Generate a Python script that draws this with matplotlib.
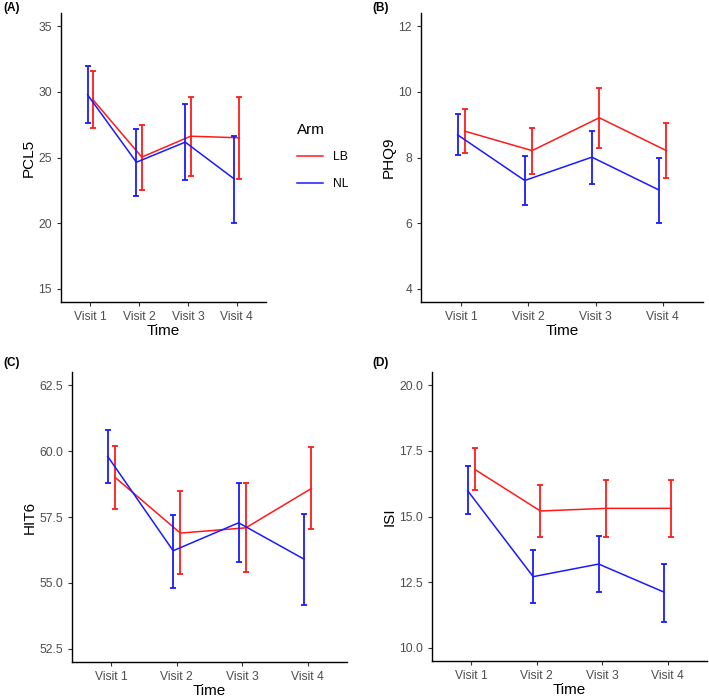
import numpy as np
import matplotlib.pyplot as plt

plt.rcParams['font.family'] = ['Liberation Sans', 'DejaVu Sans']

visits = ['Visit 1', 'Visit 2', 'Visit 3', 'Visit 4']
arms = ['LB', 'NL']
arm_colors = {'LB': '#ff1a1a', 'NL': '#1a1aff'}

# (A) PCL5
pcl5_lb = [29.4, 25.03, 26.62, 26.5]
pcl5_lb_lo = [27.23, 22.54, 23.58, 23.4]
pcl5_lb_hi = [31.6, 27.5, 29.64, 29.64]
pcl5_nl = [29.77, 24.64, 26.17, 23.38]
pcl5_nl_lo = [27.6, 22.1, 23.32, 20.0]
pcl5_nl_hi = [32.0, 27.18, 29.08, 26.6]

# (B) PHQ9
phq9_lb = [8.80, 8.21, 9.21, 8.21]
phq9_lb_lo = [8.13, 7.50, 8.29, 7.37]
phq9_lb_hi = [9.47, 8.91, 10.13, 9.05]
phq9_nl = [8.69, 7.30, 8.01, 7.01]
phq9_nl_lo = [8.09, 6.56, 7.20, 6.02]
phq9_nl_hi = [9.31, 8.06, 8.82, 7.99]

# (C) HIT6
hit6_lb = [59.01, 56.89, 57.09, 58.58]
hit6_lb_lo = [57.80, 55.32, 55.43, 57.06]
hit6_lb_hi = [60.20, 58.48, 58.78, 60.14]
hit6_nl = [59.80, 56.22, 57.28, 55.90]
hit6_nl_lo = [58.79, 54.82, 55.81, 54.16]
hit6_nl_hi = [60.81, 57.58, 58.79, 57.63]

# (D) ISI
isi_lb = [16.79, 15.21, 15.31, 15.31]
isi_lb_lo = [15.99, 14.21, 14.23, 14.21]
isi_lb_hi = [17.59, 16.19, 16.38, 16.40]
isi_nl = [15.98, 12.71, 13.19, 12.12]
isi_nl_lo = [15.08, 11.70, 12.14, 11.00]
isi_nl_hi = [16.93, 13.73, 14.26, 13.19]

panels = [
    ('(A)', 'PCL5', [15, 20, 25, 30, 35], '{:.0f}',
     {'LB': (pcl5_lb, pcl5_lb_lo, pcl5_lb_hi), 'NL': (pcl5_nl, pcl5_nl_lo, pcl5_nl_hi)},
     (61, 266, 13, 302), (3, 8)),
    ('(B)', 'PHQ9', [4, 6, 8, 10, 12], '{:.0f}',
     {'LB': (phq9_lb, phq9_lb_lo, phq9_lb_hi), 'NL': (phq9_nl, phq9_nl_lo, phq9_nl_hi)},
     (421, 703, 13, 302), (372, 8)),
    ('(C)', 'HIT6', [52.5, 55.0, 57.5, 60.0, 62.5], '{:.1f}',
     {'LB': (hit6_lb, hit6_lb_lo, hit6_lb_hi), 'NL': (hit6_nl, hit6_nl_lo, hit6_nl_hi)},
     (72, 347, 372, 662), (3, 363)),
    ('(D)', 'ISI', [10.0, 12.5, 15.0, 17.5, 20.0], '{:.1f}',
     {'LB': (isi_lb, isi_lb_lo, isi_lb_hi), 'NL': (isi_nl, isi_nl_lo, isi_nl_hi)},
     (432, 707, 372, 661), (372, 363)),
]

W, H = 709, 697
fig = plt.figure(figsize=(W / 100, H / 100), dpi=100)

x = np.arange(1, len(visits) + 1)
dodge = {'LB': 0.055, 'NL': -0.055}
handles = []

for tag, ylab, yticks, fmt, series, (l, r, t, b), (tx, ty) in panels:
    ax = fig.add_axes([l / W, 1 - b / H, (r - l) / W, (b - t) / H])
    for arm in arms:
        mean, lo, hi = series[arm]
        mean = np.array(mean)
        err = [mean - np.array(lo), np.array(hi) - mean]
        xs = x + dodge[arm]
        ln, = ax.plot(xs, mean, color=arm_colors[arm], lw=1.1, label=arm)
        ax.errorbar(xs, mean, yerr=err, fmt='none', ecolor=arm_colors[arm],
                    elinewidth=1.3, capsize=2.2, capthick=1.3)
        if tag == '(A)':
            handles.append(ln)
    pad = (yticks[-1] - yticks[0]) * 0.05
    ax.set_ylim(yticks[0] - pad, yticks[-1] + pad)
    ax.set_xlim(0.4, 4.6)
    ax.set_xticks(x)
    ax.set_xticklabels(visits)
    ax.set_yticks(yticks)
    ax.set_yticklabels([fmt.format(v) for v in yticks])
    ax.tick_params(labelsize=8.7, labelcolor='#4d4d4d', length=3, width=0.8, color='#333333')
    ax.spines['top'].set_visible(False)
    ax.spines['right'].set_visible(False)
    ax.spines['left'].set_linewidth(1.0)
    ax.spines['bottom'].set_linewidth(1.0)
    ax.set_xlabel('Time', fontsize=11, labelpad=1)
    ax.set_ylabel(ylab, fontsize=11, labelpad=2)
    fig.text(tx / W, 1 - ty / H, tag, fontsize=8.5, fontweight='bold', va='center', ha='left')

fig.legend(handles, arms, title='Arm', loc='upper left',
           bbox_to_anchor=(286 / W, 1 - 112 / H), frameon=False,
           fontsize=8.7, title_fontsize=11, handlelength=2.2, labelspacing=1.2,
           alignment='left')

fig.savefig('out.png', dpi=100)
